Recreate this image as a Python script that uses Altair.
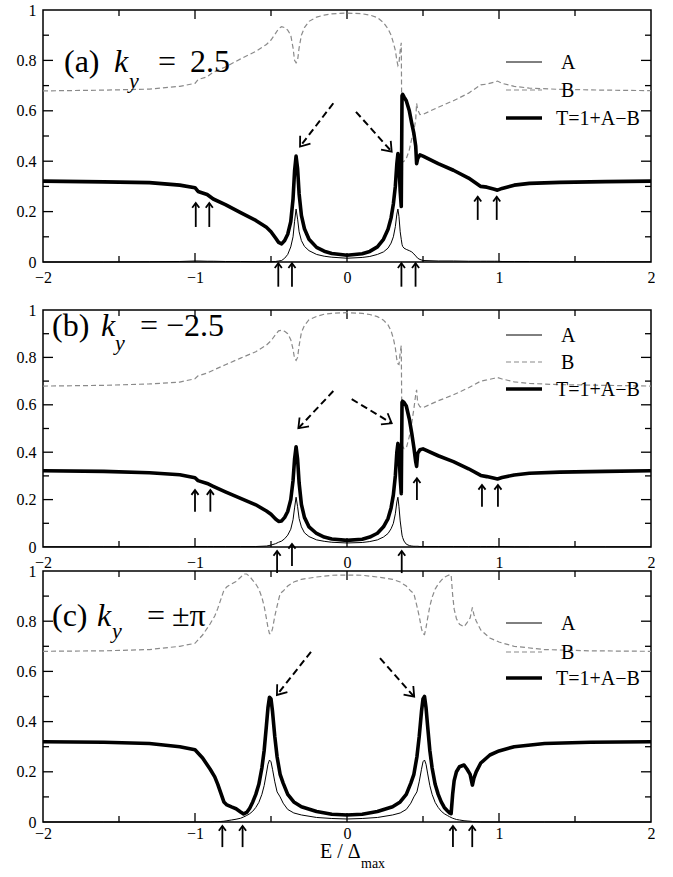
import math
import altair as alt
import pandas as pd

SERIF = "Liberation Serif, Times New Roman, DejaVu Serif, serif"

# ---------------------------------------------------------------------------
# Curves. Panels (a) and (b) share one energy grid, panel (c) has its own.
# ---------------------------------------------------------------------------
E_AB = [-2, -1.6, -1.3, -1.1, -1.0, -0.98, -0.92, -0.88, -0.8, -0.7,
        -0.6, -0.53, -0.5, -0.47, -0.45, -0.43, -0.41, -0.39, -0.37, -0.355,
        -0.345, -0.335, -0.325, -0.315, -0.30, -0.28, -0.25, -0.2, -0.15, -0.1,
        0, 0.1, 0.15, 0.2, 0.24, 0.27, 0.29, 0.305, 0.318, 0.328,
        0.335, 0.342, 0.35, 0.357, 0.362, 0.366, 0.375, 0.39, 0.41, 0.426,
        0.44, 0.452, 0.458, 0.465, 0.48, 0.5, 0.6, 0.7, 0.8, 0.88,
        0.92, 0.97, 0.99, 1.02, 1.1, 1.2, 1.4, 1.7, 2.0]

# (a) k_y = 2.5
A_a = [0.0, 0.0, 0.001, 0.002, 0.004, 0.004, 0.003, 0.003, 0.002, 0.002,
       0.001, 0.001, 0.001, 0.002, 0.004, 0.006, 0.015, 0.03, 0.06, 0.10,
       0.16, 0.21, 0.17, 0.12, 0.085, 0.062, 0.045, 0.03, 0.023, 0.019,
       0.015, 0.018, 0.022, 0.03, 0.04, 0.055, 0.075, 0.10, 0.14, 0.19,
       0.21, 0.18, 0.12, 0.09, 0.07, 0.062, 0.055, 0.05, 0.045, 0.04,
       0.032, 0.024, 0.02, 0.015, 0.01, 0.006, 0.004, 0.004, 0.003, 0.003,
       0.003, 0.003, 0.003, 0.002, 0.002, 0.002, 0.001, 0.001, 0.001]
B_a = [0.679, 0.682, 0.686, 0.697, 0.709, 0.724, 0.735, 0.753, 0.774, 0.806,
       0.836, 0.863, 0.881, 0.907, 0.926, 0.934, 0.93, 0.92, 0.90, 0.85,
       0.80, 0.79, 0.80, 0.85, 0.90, 0.93, 0.955, 0.972, 0.98, 0.985,
       0.988, 0.985, 0.98, 0.97, 0.95, 0.925, 0.90, 0.87, 0.84, 0.80,
       0.78, 0.79, 0.84, 0.87, 0.41, 0.397, 0.40, 0.41, 0.445, 0.49,
       0.522, 0.564, 0.63, 0.605, 0.585, 0.586, 0.614, 0.64, 0.67, 0.703,
       0.706, 0.714, 0.718, 0.709, 0.697, 0.69, 0.685, 0.682, 0.68]
T_a = [0.321, 0.318, 0.315, 0.305, 0.295, 0.28, 0.268, 0.25, 0.228, 0.196,
       0.165, 0.138, 0.12, 0.095, 0.078, 0.072, 0.085, 0.11, 0.16, 0.25,
       0.36, 0.42, 0.37, 0.27, 0.185, 0.132, 0.09, 0.058, 0.043, 0.034,
       0.027, 0.033, 0.042, 0.06, 0.09, 0.13, 0.175, 0.23, 0.30, 0.39,
       0.43, 0.39, 0.28, 0.22, 0.66, 0.665, 0.655, 0.64, 0.60, 0.55,
       0.51, 0.46, 0.39, 0.41, 0.425, 0.42, 0.39, 0.364, 0.333, 0.30,
       0.297, 0.289, 0.285, 0.292, 0.305, 0.312, 0.316, 0.319, 0.321]

# (b) k_y = -2.5
A_b = [0.001, 0.001, 0.001, 0.001, 0.002, 0.002, 0.002, 0.002, 0.002, 0.002,
       0.002, 0.004, 0.008, 0.014, 0.02, 0.025, 0.035, 0.05, 0.075, 0.115,
       0.165, 0.21, 0.17, 0.12, 0.085, 0.06, 0.044, 0.03, 0.024, 0.02,
       0.017, 0.019, 0.023, 0.03, 0.042, 0.057, 0.077, 0.10, 0.14, 0.19,
       0.21, 0.17, 0.11, 0.075, 0.05, 0.04, 0.025, 0.012, 0.006, 0.004,
       0.003, 0.003, 0.003, 0.003, 0.002, 0.002, 0.002, 0.002, 0.002, 0.002,
       0.002, 0.002, 0.002, 0.002, 0.001, 0.001, 0.001, 0.001, 0.001]
B_b = [0.679, 0.682, 0.688, 0.696, 0.71, 0.722, 0.734, 0.746, 0.769, 0.797,
       0.824, 0.852, 0.87, 0.896, 0.912, 0.915, 0.91, 0.90, 0.875, 0.835,
       0.795, 0.787, 0.80, 0.85, 0.905, 0.935, 0.959, 0.973, 0.982, 0.986,
       0.989, 0.986, 0.981, 0.972, 0.957, 0.937, 0.912, 0.88, 0.84, 0.79,
       0.773, 0.77, 0.82, 0.85, 0.44, 0.425, 0.415, 0.417, 0.466, 0.524,
       0.583, 0.643, 0.663, 0.608, 0.592, 0.588, 0.617, 0.642, 0.672, 0.70,
       0.705, 0.712, 0.715, 0.709, 0.697, 0.69, 0.685, 0.682, 0.679]
T_b = [0.322, 0.319, 0.313, 0.305, 0.292, 0.28, 0.268, 0.256, 0.233, 0.205,
       0.178, 0.152, 0.138, 0.118, 0.108, 0.11, 0.125, 0.15, 0.20, 0.28,
       0.37, 0.423, 0.37, 0.27, 0.18, 0.125, 0.085, 0.057, 0.042, 0.034,
       0.028, 0.033, 0.042, 0.058, 0.085, 0.12, 0.165, 0.22, 0.30, 0.40,
       0.437, 0.40, 0.29, 0.225, 0.61, 0.615, 0.61, 0.595, 0.54, 0.48,
       0.42, 0.36, 0.34, 0.395, 0.41, 0.414, 0.385, 0.36, 0.33, 0.302,
       0.297, 0.29, 0.287, 0.293, 0.304, 0.311, 0.316, 0.319, 0.322]

# (c) k_y = +-pi
E_C = [-2, -1.6, -1.3, -1.1, -1.0, -0.95, -0.9, -0.87, -0.85, -0.83,
       -0.81, -0.79, -0.76, -0.73, -0.70, -0.68, -0.66, -0.64, -0.62, -0.60,
       -0.58, -0.56, -0.545, -0.53, -0.52, -0.51, -0.50, -0.49, -0.475, -0.46,
       -0.44, -0.42, -0.39, -0.35, -0.3, -0.2, -0.1, 0,
       0.1, 0.2, 0.3, 0.35, 0.39, 0.42, 0.44, 0.46, 0.475, 0.49,
       0.50, 0.51, 0.52, 0.53, 0.545, 0.56, 0.58, 0.60, 0.62, 0.64,
       0.66, 0.675, 0.685, 0.695, 0.705, 0.72, 0.74, 0.77, 0.79, 0.81,
       0.825, 0.835, 0.85, 0.88, 0.94, 1.0, 1.1, 1.3, 1.6, 2.0]
A_c = [0, 0, 0, 0, 0, 0, 0, 0.001, 0.001, 0.002,
       0.003, 0.005, 0.008, 0.011, 0.015, 0.02, 0.026, 0.033, 0.043, 0.058,
       0.078, 0.11, 0.145, 0.195, 0.23, 0.247, 0.24, 0.21, 0.16, 0.12,
       0.10, 0.075, 0.05, 0.036, 0.028, 0.018, 0.014, 0.012,
       0.014, 0.018, 0.028, 0.036, 0.05, 0.075, 0.10, 0.12, 0.16, 0.21,
       0.24, 0.247, 0.23, 0.195, 0.145, 0.11, 0.078, 0.058, 0.043, 0.033,
       0.026, 0.021, 0.018, 0.015, 0.013, 0.01, 0.008, 0.005, 0.004, 0.003,
       0.002, 0.001, 0.001, 0, 0, 0, 0, 0, 0, 0]
B_c = [0.68, 0.682, 0.687, 0.70, 0.712, 0.745, 0.79, 0.821, 0.851, 0.887,
       0.923, 0.937, 0.948, 0.958, 0.975, 0.988, 0.988, 0.978, 0.963, 0.948,
       0.928, 0.895, 0.86, 0.81, 0.775, 0.75, 0.75, 0.77, 0.82, 0.86,
       0.91, 0.92, 0.94, 0.956, 0.967, 0.976, 0.983, 0.984,
       0.983, 0.976, 0.967, 0.956, 0.94, 0.92, 0.91, 0.86, 0.82, 0.77,
       0.75, 0.747, 0.775, 0.81, 0.86, 0.895, 0.928, 0.948, 0.963, 0.975,
       0.981, 0.985, 0.985, 0.905, 0.848, 0.81, 0.788, 0.778, 0.794, 0.813,
       0.855, 0.826, 0.801, 0.765, 0.733, 0.717, 0.70, 0.687, 0.682, 0.68]
T_c = [0.32, 0.318, 0.313, 0.30, 0.288, 0.255, 0.21, 0.18, 0.15, 0.115,
       0.08, 0.068, 0.06, 0.053, 0.04, 0.032, 0.038, 0.055, 0.08, 0.11,
       0.15, 0.215, 0.285, 0.385, 0.455, 0.497, 0.49, 0.44, 0.34, 0.26,
       0.19, 0.155, 0.11, 0.08, 0.061, 0.042, 0.031, 0.028,
       0.031, 0.042, 0.061, 0.08, 0.11, 0.155, 0.19, 0.26, 0.34, 0.44,
       0.49, 0.50, 0.455, 0.385, 0.285, 0.215, 0.15, 0.11, 0.08, 0.058,
       0.045, 0.036, 0.033, 0.11, 0.165, 0.2, 0.22, 0.227, 0.21, 0.19,
       0.147, 0.175, 0.2, 0.235, 0.267, 0.283, 0.30, 0.313, 0.318, 0.32]

CURVES = [(E_AB, A_a, B_a, T_a), (E_AB, A_b, B_b, T_b), (E_C, A_c, B_c, T_c)]

# Small "up" arrows marking band edges: (E, tail, tip) in data units
SMALL_ARROWS = [
    [(-0.995, 0.139, 0.234), (-0.906, 0.139, 0.234),
     (0.86, 0.167, 0.259), (0.985, 0.167, 0.259),
     (-0.452, -0.098, -0.005), (-0.362, -0.098, -0.005),
     (0.358, -0.098, -0.005), (0.451, -0.098, -0.005)],
    [(-1.0, 0.149, 0.24), (-0.899, 0.149, 0.24),
     (0.888, 0.17, 0.262), (0.993, 0.17, 0.262),
     (0.46, 0.198, 0.29),
     (-0.46, -0.11, -0.017), (-0.362, -0.08, 0.013), (0.36, -0.11, -0.017)],
    [(-0.82, -0.10, -0.016), (-0.687, -0.10, -0.016),
     (0.697, -0.10, -0.016), (0.824, -0.10, -0.016)],
]

# Dashed arrows pointing at the resonance peaks: (E, y, E2, y2), head at (E2, y2)
DASH_ARROWS = [
    [(-0.09, 0.630, -0.309, 0.458), (0.059, 0.596, 0.294, 0.438)],
    [(-0.09, 0.658, -0.32, 0.501), (0.031, 0.624, 0.294, 0.522)],
    [(-0.237, 0.678, -0.461, 0.506), (0.217, 0.653, 0.442, 0.499)],
]

SERIES_LABELS = ["A", "B", "T=1+A\u2212B"]
PANEL_TAGS = ["(a)", "(b)", "(c)"]
KY_VALUES = ["2.5", "\u22122.5", "\u00b1\u03c0"]

X_LABELS = [-2, -1, 0, 1, 2]
Y_LABELS = [0, 0.2, 0.4, 0.6, 0.8, 1]
X_MAJOR = [-1, 0, 1]
X_MINOR = [-1.5, -0.5, 0.5, 1.5]
Y_MAJOR = [0.2, 0.4, 0.6, 0.8]
Y_MINOR = [0.1, 0.3, 0.5, 0.7, 0.9]

# layout (pixels)
W = 608
PLOT_H = [252, 237, 251]
GAP = [48, 24, 0]
LABEL_PAD = [7, 7, 3]
LEGEND_Y = [(52, 80, 108), (25, 52, 79), (52, 81, 107)]
# title piece positions: tag x, k x, sub x, "=" x, value x, baseline, sub baseline
TITLE_POS = [(21, 71, 86, 115, 147, 62, 78),
             (9, 58, 72, 97, 123, 26, 40),
             (9, 54, 69, 104, 129, 55, 67)]

HEAD = "M -1 -0.75 L 0 0 L -1 0.75"
ONE = pd.DataFrame({"k": [0]})


def text_piece(s, x, y, size, style="normal", align="left", baseline="alphabetic"):
    return alt.Chart(ONE).mark_text(
        align=align, baseline=baseline, font=SERIF, fontSize=size,
        fontStyle=style, color="black"
    ).encode(x=alt.value(x), y=alt.value(y), text=alt.value(s))


def build_panel(i):
    xs, a, b, t = CURVES[i]
    H = PLOT_H[i]
    xscale = alt.Scale(domain=[-2, 2], nice=False, zero=False)
    yscale = alt.Scale(domain=[0, 1], nice=False, zero=False, range=[H, 0])
    xaxis = alt.Axis(values=X_LABELS, format="~g", title=None, grid=False,
                     ticks=False, domain=False, labelFont=SERIF, labelFontSize=16,
                     labelColor="black", labelPadding=LABEL_PAD[i], labelFlush=False,
                     offset=-GAP[i])
    yaxis = alt.Axis(values=Y_LABELS, format="~g", title=None, grid=False,
                     ticks=False, domain=False, labelFont=SERIF, labelFontSize=16,
                     labelColor="black", labelPadding=7, labelFlush=False)

    def X(f):
        return alt.X(f, type="quantitative", scale=xscale, axis=xaxis)

    def Y(f):
        return alt.Y(f, type="quantitative", scale=yscale, axis=yaxis)

    layers = []

    # frame
    layers.append(alt.Chart(ONE).mark_rect(fillOpacity=0, stroke="black", strokeWidth=1.5)
                  .encode(x=alt.value(0), x2=alt.value(W), y=alt.value(0), y2=alt.value(H)))

    # inward ticks on all four sides
    for vals, ln in ((X_MAJOR, 9), (X_MINOR, 6)):
        d = pd.DataFrame({"E": vals})
        layers.append(alt.Chart(d).mark_rule(color="black", strokeWidth=1.3)
                      .encode(x=X("E"), y=alt.value(H), y2=alt.value(H - ln)))
        layers.append(alt.Chart(d).mark_rule(color="black", strokeWidth=1.3)
                      .encode(x=X("E"), y=alt.value(0), y2=alt.value(ln)))
    for vals, ln in ((Y_MAJOR, 10), (Y_MINOR, 6)):
        d = pd.DataFrame({"v": vals})
        layers.append(alt.Chart(d).mark_rule(color="black", strokeWidth=1.3)
                      .encode(y=Y("v"), x=alt.value(0), x2=alt.value(ln)))
        layers.append(alt.Chart(d).mark_rule(color="black", strokeWidth=1.3)
                      .encode(y=Y("v"), x=alt.value(W), x2=alt.value(W - ln)))

    # curves
    df = pd.DataFrame({"E": xs, "A": a, "B": b, "T": t})
    base = alt.Chart(df)
    layers.append(base.mark_line(color="#8a8a8a", strokeWidth=1.2, strokeDash=[5, 3])
                  .encode(x=X("E"), y=Y("B")))
    layers.append(base.mark_line(color="black", strokeWidth=1)
                  .encode(x=X("E"), y=Y("A")))
    layers.append(base.mark_line(color="black", strokeWidth=3.6, strokeJoin="round")
                  .encode(x=X("E"), y=Y("T")))

    # small up arrows
    sa = pd.DataFrame(SMALL_ARROWS[i], columns=["E", "y0", "y1"])
    layers.append(alt.Chart(sa).mark_rule(color="black", strokeWidth=1.8)
                  .encode(x=X("E"), y=Y("y0"), y2=alt.Y2("y1")))
    layers.append(alt.Chart(sa).mark_point(shape=HEAD, size=90, color="black", filled=False,
                                           strokeWidth=1.8, opacity=1, angle=270)
                  .encode(x=X("E"), y=Y("y1")))

    # dashed arrows
    da = pd.DataFrame(DASH_ARROWS[i], columns=["E", "Y", "E2", "Y2"])
    da["ang"] = [
        math.degrees(math.atan2(-(r.Y2 - r.Y) * H, (r.E2 - r.E) * W / 4.0)) % 360
        for r in da.itertuples()
    ]
    layers.append(alt.Chart(da).mark_rule(color="black", strokeWidth=2, strokeDash=[7, 4])
                  .encode(x=X("E"), y=Y("Y"), x2=alt.X2("E2"), y2=alt.Y2("Y2")))
    layers.append(alt.Chart(da).mark_point(shape=HEAD, size=300, color="black", filled=False,
                                           strokeWidth=1.8, opacity=1)
                  .encode(x=X("E2"), y=Y("Y2"), angle=alt.Angle("ang:Q", scale=None)))

    # legend
    ya, yb, yt = LEGEND_Y[i]
    layers.append(alt.Chart(ONE).mark_rule(color="black", strokeWidth=1)
                  .encode(x=alt.value(463), x2=alt.value(499), y=alt.value(ya)))
    layers.append(alt.Chart(ONE).mark_rule(color="#8a8a8a", strokeWidth=1.2, strokeDash=[5, 3])
                  .encode(x=alt.value(463), x2=alt.value(499), y=alt.value(yb)))
    layers.append(alt.Chart(ONE).mark_rule(color="black", strokeWidth=3.6)
                  .encode(x=alt.value(463), x2=alt.value(499), y=alt.value(yt)))
    layers.append(text_piece(SERIES_LABELS[0], 518, ya + 1, 20, baseline="middle"))
    layers.append(text_piece(SERIES_LABELS[1], 518, yb + 1, 20, baseline="middle"))
    layers.append(text_piece(SERIES_LABELS[2], 513, yt + 1, 20, baseline="middle"))

    # panel title: (x) k_y = value
    tx, kx, sx, ex, vx, by, sy = TITLE_POS[i]
    layers.append(text_piece(PANEL_TAGS[i], tx, by, 32))
    layers.append(text_piece("k", kx, by, 32, style="italic"))
    layers.append(text_piece("y", sx, sy, 22, style="italic"))
    layers.append(text_piece("=", ex, by, 32))
    layers.append(text_piece(KY_VALUES[i], vx, by, 32))

    if i == 0:
        # white anchor fixing the page origin of the figure
        layers.append(alt.Chart(ONE).mark_rule(color="white", strokeWidth=1)
                      .encode(x=alt.value(-42.5), x2=alt.value(-41.5),
                              y=alt.value(-9.5), y2=alt.value(-9.5)))
    if i == 2:
        layers.append(text_piece("E / \u0394", 277, H + 36, 20))
        layers.append(text_piece("max", 318, H + 46, 14))

    return alt.layer(*layers).properties(width=W, height=H + GAP[i])


chart = alt.vconcat(
    build_panel(0), build_panel(1), build_panel(2), spacing=0, bounds="flush"
).properties(padding=0).configure_view(strokeWidth=0)

chart.save("out.html", embed_options={"renderer": "svg", "actions": False})
